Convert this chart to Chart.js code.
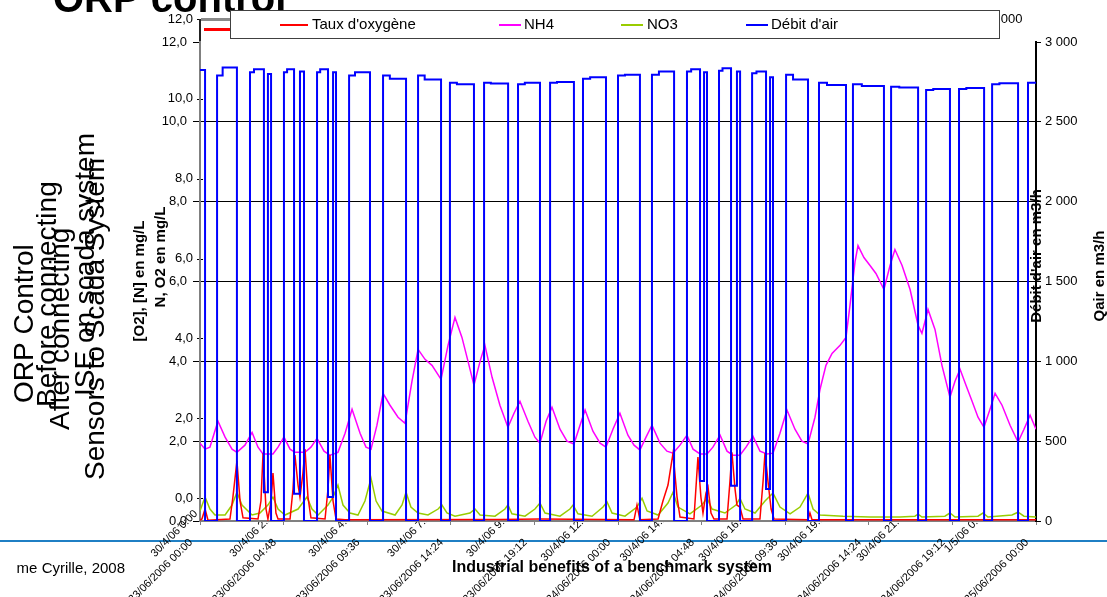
<!DOCTYPE html>
<html><head><meta charset="utf-8">
<script src="https://cdn.jsdelivr.net/npm/chart.js@4/dist/chart.umd.min.js"></script>
<style>html,body{margin:0;padding:0;background:#fff}canvas{display:block}</style>
</head><body>
<canvas id="c" width="1107" height="597"></canvas>
<script>
// ---------- DATA ----------
const seriesNames = ["Taux d'oxygène", "NH4", "NO3", "Débit d'air"];
const seriesColors = ["#ff0000", "#ff00ff", "#99cc00", "#0000ff"];
const xTickHours = [0, 4.8, 9.6, 14.4, 19.2, 24, 28.8, 33.6, 38.4, 43.2, 48];
const xTickLabels = ["23/06/2006 00:00","23/06/2006 04:48","23/06/2006 09:36","23/06/2006 14:24","23/06/2006 19:12",
  "24/06/2006 00:00","24/06/2006 04:48","24/06/2006 09:36","24/06/2006 14:24","24/06/2006 19:12","25/06/2006 00:00"];
const ghostXLabels = ["30/4/06 0:00","30/4/06 2:24","30/4/06 4:48","30/4/06 7:12","30/4/06 9:36","30/4/06 12:00",
  "30/4/06 14:24","30/4/06 16:48","30/4/06 19:12","30/4/06 21:36","1/5/06 0:00"];
const yLeftTicks = [0, 2, 4, 6, 8, 10, 12];
const yLeftLabels = ["0,0","2,0","4,0","6,0","8,0","10,0","12,0"];
const yRightTicks = [0, 500, 1000, 1500, 2000, 2500, 3000];
const yRightLabels = ["0","500","1 000","1 500","2 000","2 500","3 000"];

// NH4 (mg/L) vs hours
const nh4Hours = [0,0.29,0.57,1.03,1.44,1.84,2.12,2.58,2.99,3.33,3.62,4.19,4.48,4.82,5.17,5.45,6.03,6.37,6.72,7.12,7.46,7.92,
  8.33,8.73,9.19,9.53,9.82,10.16,10.51,10.91,11.37,11.77,12.17,12.52,12.92,13.32,13.84,14.24,14.64,15.04,15.39,15.73,16.08,16.36,
  16.77,17.22,17.68,18.03,18.37,18.83,19.23,19.52,19.87,20.21,20.67,21.07,21.47,21.82,22.11,22.56,22.97,23.31,23.71,24.11,24.57,
  24.92,25.26,25.61,25.95,26.41,26.81,27.16,27.56,27.96,28.31,28.71,29.11,29.45,29.86,30.26,30.60,31.00,31.35,31.75,32.15,32.56,
  32.90,33.30,33.70,34.16,34.56,34.91,35.31,35.60,35.94,36.29,36.75,37.09,37.32,37.61,37.78,38.12,38.47,38.81,39.27,39.62,39.90,
  40.31,40.77,41.23,41.45,41.80,42.20,42.60,43.06,43.35,43.64,43.98,44.33,44.67,45.01,45.36,45.65,46.05,46.51,46.97,47.31,47.66,48];
const nh4Values = [1.95,1.8,1.85,2.5,2.1,1.8,1.72,1.9,2.22,1.85,1.68,1.68,1.85,2.1,1.8,1.72,1.72,1.85,2.07,1.75,1.65,1.72,
  2.2,2.8,2.2,1.85,1.8,2.4,3.2,2.9,2.6,2.45,3.5,4.3,4.05,3.9,3.55,4.4,5.1,4.6,4.0,3.4,4.0,4.4,
  3.6,2.9,2.35,2.7,3.0,2.5,2.1,1.95,2.5,2.85,2.3,2.0,1.93,2.4,2.78,2.25,1.95,1.85,2.3,2.7,2.15,
  1.9,1.78,2.1,2.4,1.95,1.75,1.7,1.9,2.15,1.8,1.68,1.68,1.85,2.15,1.75,1.65,1.65,1.85,2.12,1.75,1.68,
  1.7,2.2,2.78,2.3,2.0,1.93,2.6,3.3,3.9,4.2,4.4,4.6,5.4,6.5,6.9,6.6,6.4,6.2,5.8,6.4,6.8,
  6.4,5.8,4.9,4.7,5.3,4.8,3.9,3.1,3.5,3.8,3.4,3.0,2.6,2.35,2.8,3.2,2.9,2.4,1.98,2.3,2.65,2.3];

// O2 (mg/L) vs hours
const o2Hours = [0,0.11,0.29,0.46,1.72,1.89,2.12,2.30,2.47,3.33,3.50,3.62,3.79,3.90,4.08,4.19,4.36,4.48,5.17,5.34,5.45,5.63,
  5.74,5.91,6.03,6.20,6.37,7.18,7.35,7.46,7.64,7.81,8.33,17.22,19.52,24.92,25.09,25.26,26.30,26.58,26.87,27.16,27.39,27.56,
  28.36,28.59,28.76,28.88,29.05,29.17,29.34,29.51,30.26,30.43,30.54,30.72,30.83,31.00,31.18,32.15,32.33,32.44,32.61,32.79,32.96,
  34.91,35.02,35.14,48];
const o2Values = [0.02,0.05,0.3,0.02,0.05,0.6,1.5,0.5,0.08,0.05,0.5,1.7,0.3,0.05,0.5,1.2,0.2,0.05,0.05,0.8,1.65,0.9,
  0.6,1.2,1.8,0.6,0.08,0.05,0.8,1.65,0.5,0.05,0.03,0.04,0.05,0.03,0.4,0.03,0.05,0.5,0.9,1.7,0.6,0.1,
  0.05,1.6,0.6,0.2,0.7,0.85,0.2,0.05,0.05,1.0,1.72,0.8,0.4,0.35,0.05,0.05,1.0,1.7,1.0,0.3,0.05,
  0.03,0.2,0.03,0.03];

// NO3 (mg/L) vs hours
const no3Hours = [0,0.29,0.57,0.86,1.44,1.84,2.12,2.41,2.99,3.44,3.90,4.19,4.48,4.88,5.63,6.14,6.43,6.78,7.35,7.64,7.92,8.21,
  8.61,9.07,9.47,9.82,10.11,10.45,11.20,11.60,11.83,12.11,12.52,13.09,13.67,13.89,14.18,14.64,15.50,15.79,16.08,16.94,17.51,17.68,
  17.91,18.66,19.23,19.52,19.81,20.67,21.24,21.42,21.70,22.51,23.14,23.37,23.66,24.40,25.09,25.38,25.67,26.30,26.87,27.16,27.44,
  28.13,28.82,29.11,29.40,30.14,30.77,31.00,31.29,31.87,32.44,32.90,33.30,33.88,34.45,34.91,35.20,35.60,36.92,38.47,40.19,41.05,
  41.23,41.45,42.77,43.06,43.35,44.67,44.96,45.24,46.62,46.97,47.31,48];
const no3Values = [0.25,0.6,0.3,0.15,0.15,0.4,0.72,0.4,0.15,0.2,0.4,0.6,0.3,0.15,0.3,0.6,0.3,0.15,0.4,0.6,0.9,0.4,
  0.2,0.15,0.5,1.07,0.5,0.25,0.15,0.4,0.72,0.35,0.2,0.15,0.3,0.4,0.2,0.12,0.2,0.3,0.15,0.12,0.3,0.4,
  0.18,0.12,0.3,0.45,0.2,0.12,0.3,0.4,0.18,0.12,0.35,0.48,0.2,0.12,0.35,0.57,0.25,0.15,0.45,0.72,0.35,
  0.18,0.4,0.57,0.3,0.2,0.4,0.57,0.3,0.2,0.5,0.7,0.35,0.18,0.35,0.7,0.3,0.15,0.12,0.1,0.1,0.12,
  0.17,0.1,0.12,0.2,0.1,0.12,0.2,0.1,0.15,0.22,0.12,0.1];

// Air flow (m3/h): each value holds until the next time
const airHours = [0,0.29,0.98,1.30,2.12,2.87,3.10,3.67,3.90,4.08,4.82,5.00,5.40,5.74,5.97,6.72,6.90,7.35,7.64,7.81,
  8.56,8.90,9.76,10.51,10.90,11.83,12.52,12.90,13.84,14.35,14.75,15.73,16.31,16.70,17.69,18.26,18.65,19.52,20.10,20.50,21.47,
  21.99,22.40,23.31,24.00,24.40,25.26,25.95,26.35,27.22,27.96,28.20,28.71,28.94,29.11,29.80,30.00,30.49,30.83,31.01,
  31.70,31.95,32.50,32.73,32.90,33.65,34.05,34.91,35.54,36.00,37.09,37.49,38.00,39.27,39.68,40.15,41.23,41.69,42.10,43.06,
  43.58,44.00,45.02,45.48,45.90,46.97,47.54,48];
const airFlow = [2825,0,2790,2840,0,2810,2830,180,2800,0,2810,2830,170,2815,0,2810,2830,150,2810,0,
  2790,2810,0,2790,2770,0,2790,2765,0,2745,2735,0,2745,2740,0,2735,2745,0,2745,2750,0,
  2770,2780,0,2790,2795,0,2795,2815,0,2815,2830,250,2810,0,2820,2835,220,2815,0,
  2805,2815,200,2780,0,2795,2765,0,2745,2730,0,2735,2725,0,2720,2715,0,2700,2705,0,
  2705,2712,0,2735,2742,0,2745,2745];

// ---------- TEXTS ----------
const slideTitle = "ORP control";
const sideTexts = [
  {t: "ORP Control", x: 33, y: 403},
  {t: "Before connecting", x: 56, y: 407},
  {t: "After connecting", x: 69, y: 430},
  {t: "ISE on scada system", x: 94, y: 396},
  {t: "Sensors to Scada System", x: 104, y: 480}
];
const leftTitles = ["[O2], [N] en mg/L", "N, O2 en mg/L"];
const rightTitles = ["Débit d'air en m3/h", "Qair en m3/h"];
const footerTitle = "Industrial benefits of a benchmark system";
const footerCredit = "me Cyrille, 2008";

const FONT = '"Liberation Sans", Arial, sans-serif';
Chart.defaults.font.family = FONT;
Chart.defaults.color = '#000';

const pts = (xs, ys) => xs.map((x, i) => ({x: x, y: ys[i]}));

const decor = {
  id: 'decor',
  beforeDraw(chart) {
    const c = chart.ctx, a = chart.chartArea, ys = chart.scales.y;
    c.save();
    // footer line
    c.fillStyle = '#1f7fc4';
    c.fillRect(0, 540, 1107, 2);
    // title (cropped)
    c.fillStyle = '#000';
    c.font = 'bold 40px ' + FONT;
    c.textAlign = 'left'; c.textBaseline = 'alphabetic';
    c.fillText(slideTitle, 53, 12);
    // rotated side texts
    c.font = '28px ' + FONT;
    sideTexts.forEach(s => {
      c.save(); c.translate(s.x, s.y); c.rotate(-Math.PI / 2);
      c.fillText(s.t, 0, 0); c.restore();
    });
    // axis titles
    c.font = 'bold 15px ' + FONT;
    c.textAlign = 'center';
    [[leftTitles[0], 144, 281], [leftTitles[1], 165, 257], [rightTitles[0], 1041, 256], [rightTitles[1], 1104, 276]].forEach(d => {
      c.save(); c.translate(d[1], d[2]); c.rotate(-Math.PI / 2); c.fillText(d[0], 0, 0); c.restore();
    });
    // ghost left axis
    c.font = '13px ' + FONT;
    c.textAlign = 'right'; c.textBaseline = 'middle';
    yLeftTicks.forEach((v, i) => {
      const py = ys.getPixelForValue(v) - 23;
      c.fillText(yLeftLabels[i], 193, py);
      c.fillRect(197, Math.round(py), 6, 1);
    });
    c.fillStyle = '#222';
    c.fillRect(199, 19, 2, 24);
    // ghost legend fragments
    c.fillStyle = '#8a8a8a';
    c.fillRect(201, 18, 30, 3);
    c.fillStyle = '#ff0000';
    c.fillRect(204, 28, 27, 3);
    // ghost x labels, hidden by the plot area
    c.beginPath();
    c.rect(0, 0, 1107, 597);
    c.rect(a.left, a.top, a.right - a.left, a.bottom - a.top);
    c.clip('evenodd');
    c.fillStyle = '#000';
    c.font = '11px ' + FONT;
    c.textAlign = 'right'; c.textBaseline = 'middle';
    ghostXLabels.forEach((t, i) => {
      c.save(); c.translate(196 + i * 78.9, 512); c.rotate(-Math.PI / 4); c.fillText(t, 0, 0); c.restore();
    });
    c.restore();
  },
  afterDraw(chart) {
    const c = chart.ctx;
    c.save();
    c.fillStyle = '#000';
    c.font = '13px ' + FONT;
    c.textAlign = 'left'; c.textBaseline = 'middle';
    c.fillText("3 000", 990, 19);
    // legend box
    c.fillStyle = '#fff';
    c.fillRect(230, 10, 770, 29);
    c.strokeStyle = '#404040'; c.lineWidth = 1;
    c.strokeRect(230.5, 10.5, 769, 28);
    c.font = '15px ' + FONT;
    const lx = [[280, 308, 312], [499, 521, 524], [621, 643, 647], [746, 768, 771]];
    seriesNames.forEach((n, i) => {
      c.fillStyle = seriesColors[i];
      c.fillRect(lx[i][0], 24, lx[i][1] - lx[i][0], 2);
      c.fillStyle = '#000';
      c.fillText(n, lx[i][2], 25);
    });
    // footer texts
    c.font = 'bold 16px ' + FONT;
    c.textBaseline = 'alphabetic';
    c.fillText(footerTitle, 452, 572);
    c.font = '15px ' + FONT;
    c.textAlign = 'right';
    c.fillText(footerCredit, 125, 573);
    c.restore();
  }
};

new Chart(document.getElementById('c'), {
  type: 'line',
  data: {
    datasets: [
      {label: seriesNames[3], data: pts(airHours, airFlow), yAxisID: 'y2', borderColor: seriesColors[3], borderWidth: 2, stepped: true, order: 0},
      {label: seriesNames[0], data: pts(o2Hours, o2Values), yAxisID: 'y', borderColor: seriesColors[0], borderWidth: 1.5, order: 1},
      {label: seriesNames[1], data: pts(nh4Hours, nh4Values), yAxisID: 'y', borderColor: seriesColors[1], borderWidth: 1.5, order: 2},
      {label: seriesNames[2], data: pts(no3Hours, no3Values), yAxisID: 'y', borderColor: seriesColors[2], borderWidth: 1.5, order: 3}
    ]
  },
  options: {
    responsive: false, animation: false, devicePixelRatio: 1,
    layout: {padding: {top: 42, left: 0, right: 0, bottom: 0}},
    elements: {point: {radius: 0}, line: {tension: 0}},
    plugins: {legend: {display: false}, tooltip: {enabled: false}},
    scales: {
      x: {
        type: 'linear', min: 0, max: 48, position: 'bottom',
        afterBuildTicks: s => { s.ticks = xTickHours.map(v => ({value: v})); },
        afterFit: s => { s.height = 76; },
        ticks: {autoSkip: false, maxRotation: 45, minRotation: 45, padding: 11, labelOffset: -9, font: {size: 11}, color: '#000',
          callback: (v, i) => xTickLabels[i]},
        grid: {drawOnChartArea: false, drawTicks: true, tickLength: 4, color: '#808080'},
        border: {color: '#808080', width: 2}
      },
      y: {
        position: 'left', min: 0, max: 12,
        afterBuildTicks: s => { s.ticks = yLeftTicks.map(v => ({value: v})); },
        afterFit: s => { s.width = 200; },
        ticks: {padding: 6, font: {size: 13}, color: '#000', callback: (v, i) => yLeftLabels[i]},
        grid: {color: ctx => (ctx.tick && (ctx.tick.value === 0 || ctx.tick.value === 12)) ? 'rgba(0,0,0,0)' : '#000',
          tickColor: '#000', tickLength: 7, lineWidth: 1},
        border: {color: '#808080', width: 2}
      },
      y2: {
        position: 'right', min: 0, max: 3000,
        afterBuildTicks: s => { s.ticks = yRightTicks.map(v => ({value: v})); },
        afterFit: s => { s.width = 71; },
        ticks: {padding: 4, font: {size: 13}, color: '#000', callback: (v, i) => yRightLabels[i]},
        grid: {drawOnChartArea: false, tickColor: '#000', tickLength: 5},
        border: {color: '#000', width: 2}
      }
    }
  },
  plugins: [decor]
});
</script>
</body></html>
